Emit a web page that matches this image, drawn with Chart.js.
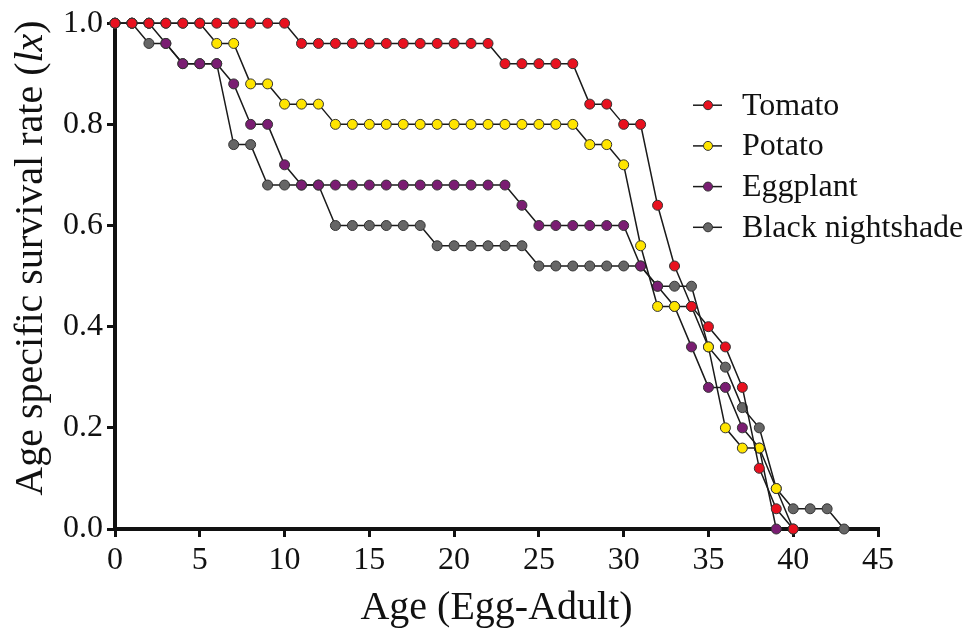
<!DOCTYPE html>
<html>
<head>
<meta charset="utf-8">
<script src="https://cdn.jsdelivr.net/npm/chart.js@4.4.1/dist/chart.umd.min.js"></script>
<style>
    html, body { margin: 0; padding: 0; background: #fff; }
    #box { width: 965px; height: 637px; }
</style>
</head>
<body>
<div id="box"><canvas id="myChart" width="965" height="637"></canvas></div>
<script>
var ages = [0, 1, 2, 3, 4, 5, 6, 7, 8, 9, 10, 11, 12, 13, 14, 15, 16, 17, 18, 19, 20, 21,
    22, 23, 24, 25, 26, 27, 28, 29, 30, 31, 32, 33, 34, 35, 36, 37, 38, 39, 40, 41, 42, 43];
var tomato = [1, 1, 1, 1, 1, 1, 1, 1, 1, 1, 1,
    0.96, 0.96, 0.96, 0.96, 0.96, 0.96, 0.96, 0.96, 0.96, 0.96, 0.96, 0.96,
    0.92, 0.92, 0.92, 0.92, 0.92, 0.84, 0.84, 0.80, 0.80,
    0.64, 0.52, 0.44, 0.40, 0.36, 0.28, 0.12, 0.04, 0];
var potato = [1, 1, 1, 1, 1, 1, 0.96, 0.96, 0.88, 0.88, 0.84, 0.84, 0.84,
    0.80, 0.80, 0.80, 0.80, 0.80, 0.80, 0.80, 0.80, 0.80, 0.80, 0.80, 0.80, 0.80, 0.80, 0.80,
    0.76, 0.76, 0.72, 0.56, 0.44, 0.44, 0.44, 0.36, 0.20, 0.16, 0.16, 0.08, 0];
var eggplant = [1, 1, 1, 0.96, 0.92, 0.92, 0.92, 0.88, 0.80, 0.80, 0.72,
    0.68, 0.68, 0.68, 0.68, 0.68, 0.68, 0.68, 0.68, 0.68, 0.68, 0.68, 0.68, 0.68,
    0.64, 0.60, 0.60, 0.60, 0.60, 0.60, 0.60,
    0.52, 0.48, 0.44, 0.36, 0.28, 0.28, 0.20, 0.16, 0];
var nightshade = [1, 1, 0.96, 0.96, 0.92, 0.92, 0.92, 0.76, 0.76,
    0.68, 0.68, 0.68, 0.68, 0.60, 0.60, 0.60, 0.60, 0.60, 0.60,
    0.56, 0.56, 0.56, 0.56, 0.56, 0.56, 0.52, 0.52, 0.52, 0.52, 0.52, 0.52, 0.52,
    0.48, 0.48, 0.48, 0.36, 0.32, 0.24, 0.20, 0.08, 0.04, 0.04, 0.04, 0];
var names = ['Tomato', 'Potato', 'Eggplant', 'Black nightshade'];
var colors = ['#e8111f', '#ffe500', '#7a1d72', '#666666'];
var xTicks = [0, 5, 10, 15, 20, 25, 30, 35, 40, 45];
var yTicks = [0, 0.2, 0.4, 0.6, 0.8, 1.0];

var serif = '"Liberation Serif", "Times New Roman", serif';

function toPoints(values) {
    var pts = [];
    for (var i = 0; i < values.length; i++) {
        pts.push({x: ages[i], y: values[i]});
    }
    return pts;
}

var series = [tomato, potato, eggplant, nightshade];
var datasets = [];
for (var i = 0; i < series.length; i++) {
    datasets.push({
        label: names[i],
        data: toPoints(series[i]),
        borderColor: '#1a1a1a',
        borderWidth: 1.5,
        backgroundColor: colors[i],
        pointBackgroundColor: colors[i],
        pointBorderColor: '#333',
        pointBorderWidth: 1,
        pointRadius: 5,
        tension: 0,
        clip: false
    });
}

// legend drawn inside the plot, like the original figure
var insideLegend = {
    id: 'insideLegend',
    afterDraw: function (chart) {
        var ctx = chart.ctx;
        var area = chart.chartArea;
        var x0 = area.right - 185;
        ctx.save();
        ctx.font = '32px ' + serif;
        ctx.textBaseline = 'middle';
        ctx.fillStyle = '#111';
        chart.data.datasets.forEach(function (ds, i) {
            var y = area.top + 82 + i * 40.7;
            ctx.strokeStyle = '#1a1a1a';
            ctx.lineWidth = 1.5;
            ctx.beginPath();
            ctx.moveTo(x0, y);
            ctx.lineTo(x0 + 29, y);
            ctx.stroke();
            ctx.beginPath();
            ctx.arc(x0 + 15, y, 4.5, 0, Math.PI * 2);
            ctx.fillStyle = ds.pointBackgroundColor;
            ctx.fill();
            ctx.strokeStyle = '#333';
            ctx.lineWidth = 1;
            ctx.stroke();
            ctx.fillStyle = '#111';
            ctx.fillText(ds.label, x0 + 49, y + 1);
        });
        ctx.restore();
    }
};

// y title with italic "lx"
var yTitle = {
    id: 'yTitle',
    afterDraw: function (chart) {
        var ctx = chart.ctx;
        var parts = [['Age specific survival rate (', ''], ['lx', 'italic '], [')', '']];
        ctx.save();
        ctx.translate(31, 258);
        ctx.rotate(-Math.PI / 2);
        ctx.textBaseline = 'middle';
        ctx.fillStyle = '#111';
        var total = 0;
        parts.forEach(function (p) {
            ctx.font = p[1] + '40px ' + serif;
            total += ctx.measureText(p[0]).width;
        });
        var x = -total / 2;
        parts.forEach(function (p) {
            ctx.font = p[1] + '40px ' + serif;
            ctx.fillText(p[0], x, 0);
            x += ctx.measureText(p[0]).width;
        });
        ctx.restore();
    }
};

new Chart(document.getElementById('myChart'), {
    type: 'line',
    data: {datasets: datasets},
    options: {
        responsive: false,
        animation: false,
        layout: {padding: {left: 50, right: 87, top: 21, bottom: 0}},
        plugins: {
            legend: {display: false},
            tooltip: {enabled: false}
        },
        scales: {
            x: {
                type: 'linear',
                min: 0,
                max: 45,
                afterBuildTicks: function (scale) {
                    scale.ticks = xTicks.map(function (v) { return {value: v}; });
                },
                afterFit: function (scale) { scale.height = 108; },
                ticks: {
                    color: '#111',
                    padding: 4,
                    font: {family: serif, size: 32}
                },
                grid: {drawOnChartArea: false, drawTicks: true, tickLength: 8, lineWidth: 3, color: '#111'},
                border: {width: 4, color: '#111'},
                title: {
                    display: true,
                    text: 'Age (Egg-Adult)',
                    color: '#111',
                    padding: {top: 0, bottom: 5},
                    font: {family: serif, size: 40}
                }
            },
            y: {
                min: 0,
                max: 1,
                afterBuildTicks: function (scale) {
                    scale.ticks = yTicks.map(function (v) { return {value: v}; });
                },
                afterFit: function (scale) { scale.width = 65; },
                ticks: {
                    color: '#111',
                    padding: 4,
                    font: {family: serif, size: 32},
                    callback: function (v) { return v.toFixed(1); }
                },
                grid: {drawOnChartArea: false, drawTicks: true, tickLength: 8, lineWidth: 3, color: '#111'},
                border: {width: 4, color: '#111'}
            }
        }
    },
    plugins: [insideLegend, yTitle]
});
</script>
</body>
</html>
